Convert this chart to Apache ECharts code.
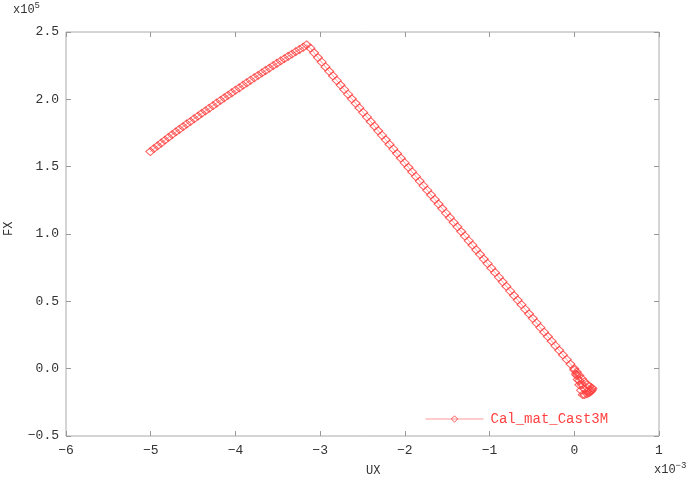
<!DOCTYPE html>
<html>
<head>
<meta charset="utf-8">
<script src="https://cdn.jsdelivr.net/npm/echarts@6/dist/echarts.min.js"></script>
<style>
html,body{margin:0;padding:0;background:#fff;}
#chart{width:690px;height:478px;}
</style>
</head>
<body>
<div id="chart"></div>
<script>
// UX in units of 1e-3, FX in units of 1e5
var seriesName = 'Cal_mat_Cast3M';
var xTicks = [-6, -5, -4, -3, -2, -1, 0, 1];
var yTicks = [-0.5, 0.0, 0.5, 1.0, 1.5, 2.0, 2.5];

var uxLoad = [-5.005,-4.962,-4.919,-4.876,-4.833,-4.790,-4.747,-4.704,-4.661,-4.618,-4.575,-4.532,-4.487,-4.443,-4.398,-4.354,-4.310,-4.265,-4.221,-4.176,-4.132,-4.088,-4.043,-3.999,-3.954,-3.910,-3.866,-3.821,-3.777,-3.732,-3.688,-3.644,-3.599,-3.555,-3.510,-3.466,-3.422,-3.377,-3.333,-3.288,-3.244,-3.200,-3.160];
var fxLoad = [1.612,1.634,1.655,1.676,1.697,1.717,1.738,1.758,1.778,1.797,1.817,1.835,1.856,1.875,1.896,1.914,1.934,1.953,1.973,1.992,2.011,2.030,2.049,2.068,2.086,2.105,2.123,2.142,2.160,2.178,2.196,2.214,2.232,2.250,2.268,2.285,2.302,2.320,2.336,2.354,2.370,2.387,2.405];

var uxDesc = [-3.115,-3.071,-3.026,-2.982,-2.937,-2.893,-2.848,-2.804,-2.759,-2.716,-2.670,-2.626,-2.581,-2.537,-2.492,-2.448,-2.403,-2.359,-2.314,-2.270,-2.225,-2.181,-2.136,-2.092,-2.047,-2.003,-1.958,-1.914,-1.869,-1.825,-1.780,-1.736,-1.691,-1.647,-1.602,-1.558,-1.513,-1.469,-1.424,-1.380,-1.335,-1.291,-1.246,-1.202,-1.157,-1.113,-1.068,-1.024,-0.979,-0.935,-0.890,-0.846,-0.801,-0.757,-0.712,-0.668,-0.623,-0.579,-0.534,-0.490,-0.445,-0.401,-0.356,-0.312,-0.267,-0.223,-0.178,-0.134,-0.089,-0.045,0.000];
var fxDesc = [2.380,2.345,2.310,2.277,2.241,2.208,2.174,2.140,2.106,2.073,2.038,2.004,1.970,1.936,1.902,1.869,1.834,1.801,1.766,1.733,1.699,1.665,1.631,1.597,1.563,1.529,1.495,1.461,1.427,1.393,1.358,1.325,1.290,1.257,1.222,1.189,1.154,1.121,1.086,1.053,1.018,0.985,0.950,0.917,0.882,0.849,0.814,0.781,0.746,0.713,0.679,0.645,0.611,0.577,0.543,0.509,0.475,0.441,0.407,0.374,0.339,0.306,0.271,0.238,0.204,0.170,0.136,0.102,0.068,0.034,0.000];

var uxTail = [0.030,0.060,0.090,0.120,0.150,0.180,0.205,0.215,0.195,0.170,0.150,0.120,0.100,0.080,0.060,0.040,0.020,0.000,0.030,0.060,0.090,0.120,0.150,0.170,0.190,0.205];
var fxTail = [-0.025,-0.050,-0.075,-0.098,-0.118,-0.132,-0.142,-0.150,-0.165,-0.178,-0.187,-0.193,-0.193,-0.160,-0.120,-0.080,-0.040,-0.010,-0.050,-0.090,-0.120,-0.150,-0.170,-0.178,-0.172,-0.160];

var ux = uxLoad.concat(uxDesc, uxTail);
var fx = fxLoad.concat(fxDesc, fxTail);
var points = ux.map(function (v, i) { return [v, fx[i]]; });

var FONT = 'Liberation Mono';
var red = '#ff4040';
function fmtX(v) { return String(v).replace('-', '\u2212'); }
function fmtY(v) { return v.toFixed(1).replace('-', '\u2212'); }

var chart = echarts.init(document.getElementById('chart'), null, {renderer: 'canvas'});
var axisCommon = {
  type: 'value',
  splitLine: {show: false},
  axisLine: {show: false, onZero: false},
  axisTick: {show: true, inside: true, length: 5, lineStyle: {color: '#999'}}
};
chart.setOption({
  animation: false,
  backgroundColor: '#fff',
  grid: {left: 66, right: 31, top: 32, bottom: 42, show: true, borderColor: '#aaa', borderWidth: 1, backgroundColor: 'transparent'},
  xAxis: [
    Object.assign({}, axisCommon, {
      position: 'bottom', min: xTicks[0], max: xTicks[xTicks.length - 1], interval: 1,
      axisLabel: {margin: 8, color: '#333', fontFamily: FONT, fontSize: 13, formatter: fmtX}
    }),
    Object.assign({}, axisCommon, {
      position: 'top', min: xTicks[0], max: xTicks[xTicks.length - 1], interval: 1,
      axisLabel: {show: false}
    })
  ],
  yAxis: [
    Object.assign({}, axisCommon, {
      position: 'left', min: yTicks[0], max: yTicks[yTicks.length - 1], interval: 0.5,
      axisLabel: {margin: 7, color: '#333', fontFamily: FONT, fontSize: 13, formatter: fmtY}
    }),
    Object.assign({}, axisCommon, {
      position: 'right', min: yTicks[0], max: yTicks[yTicks.length - 1], interval: 0.5,
      axisLabel: {show: false}
    })
  ],
  legend: {
    left: 425, top: 412, padding: 0,
    itemWidth: 58, itemHeight: 8, itemGap: 6,
    textStyle: {color: red, fontFamily: FONT, fontSize: 14, padding: [0, 0, 0, 2]},
    itemStyle: {color: 'rgba(255,255,255,0)', borderColor: red, borderWidth: 1},
    lineStyle: {color: '#ff9a9a', width: 1},
    data: [seriesName]
  },
  graphic: [
    {type: 'text', left: 13, top: 1, style: {
      text: 'x10{s|5}', fill: '#333', font: '12px "Liberation Mono"',
      rich: {s: {fontSize: 9, fontFamily: FONT, verticalAlign: 'top', padding: [0,0,8,0], fill: '#333'}}
    }},
    {type: 'text', left: 654, top: 461, style: {
      text: 'x10{s|\u22123}', fill: '#333', font: '12px "Liberation Mono"',
      rich: {s: {fontSize: 9, fontFamily: FONT, padding: [0,0,8,0], fill: '#333'}}
    }},
    {type: 'text', left: 366, top: 465, style: {text: 'UX', fill: '#333', font: '12px "Liberation Mono"'}},
    {type: 'text', x: 3, y: 236, rotation: Math.PI / 2, style: {text: 'FX', fill: '#333', font: '12px "Liberation Mono"'}}
  ],
  series: [{
    name: seriesName,
    type: 'line',
    data: points,
    symbol: 'diamond',
    symbolSize: [9, 8],
    showAllSymbol: true,
    lineStyle: {color: '#ff9a9a', width: 1},
    itemStyle: {color: 'rgba(255,255,255,0)', borderColor: red, borderWidth: 1, opacity: 0.85},
    emphasis: {disabled: true}
  }]
});
</script>
</body>
</html>
